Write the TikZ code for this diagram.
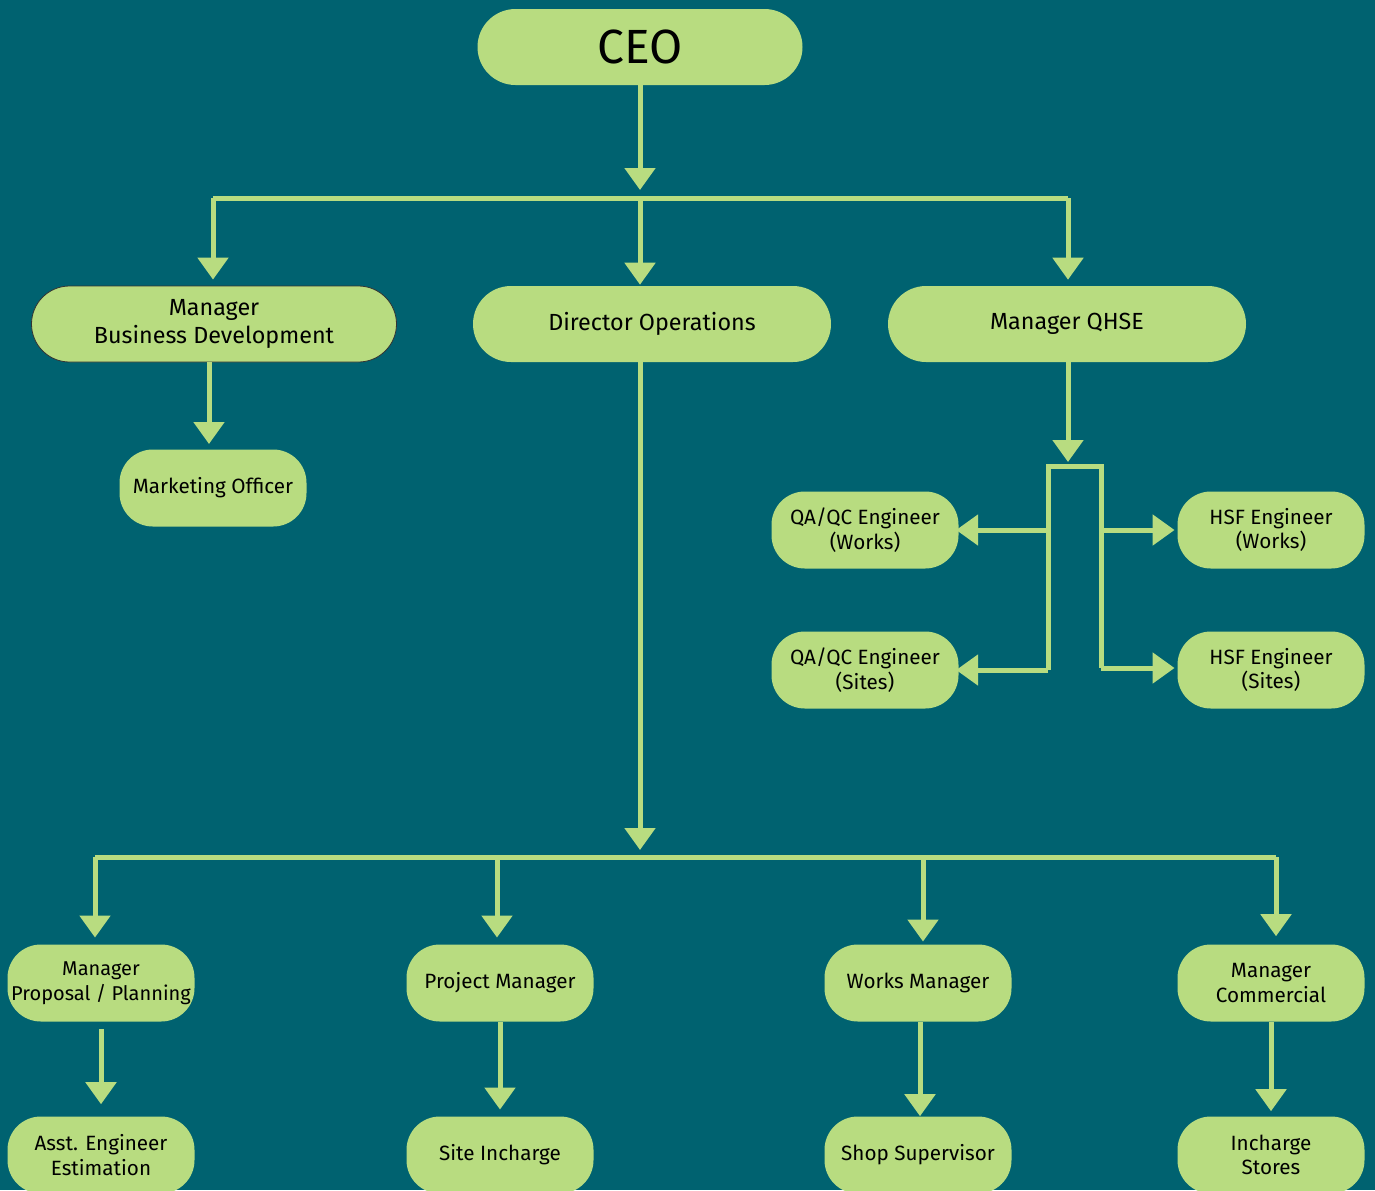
\documentclass[tikz,border=0pt]{standalone}
\usepackage{fontspec}
\setmainfont{Fira Sans}
\usetikzlibrary{arrows.meta}
\definecolor{bg}{RGB}{0,98,112}
\definecolor{leaf}{RGB}{184,220,128}
\begin{document}
\begin{tikzpicture}[x=0.75pt,y=-0.75pt,
  box/.style={fill=leaf,text=black,align=center,inner sep=0pt},
  bignode/.style={box,minimum height=57pt,rounded corners=28.5pt,font=\fontsize{17.5}{20.5}\selectfont},
  smallnode/.style={box,minimum width=140.25pt,minimum height=57.75pt,rounded corners=25pt,font=\fontsize{15.5}{18.5}\selectfont},
  bus/.style={draw=leaf,line width=3.75pt},
  conn/.style={bus,-{Triangle[width=22.5pt,length=16.5pt]}}]
\fill[bg] (0,0) rectangle (1375,1190);
\useasboundingbox (0,0) rectangle (1375,1190);
% level 0/1
\node[bignode,minimum width=243.75pt,font=\fontsize{36}{40}\selectfont] (ceo) at (640,47) {CEO};
\node[bignode,minimum width=273.75pt,draw=black!80,line width=0.6pt] (mbd) at (214,324) {Manager\\Business Development};
\node[bignode,minimum width=268.5pt] (dop) at (652,324) {Director Operations};
\node[bignode,minimum width=268.5pt] (qhse) at (1067,324) {Manager QHSE};
\node[smallnode] (mo) at (213,488) {Marketing Officer};
% QHSE children
\node[smallnode] (qw) at (865,530) {QA/QC Engineer\\(Works)};
\node[smallnode] (qs) at (865,670) {QA/QC Engineer\\(Sites)};
\node[smallnode] (hw) at (1271,530) {HSF Engineer\\(Works)};
\node[smallnode] (hs) at (1271,670) {HSF Engineer\\(Sites)};
% bottom row
\node[smallnode,font=\fontsize{15}{18.5}\selectfont] (ppl) at (101,983) {Manager\\Proposal / Planning};
\node[smallnode] (pm) at (500,983) {Project Manager};
\node[smallnode] (wm) at (918,983) {Works Manager};
\node[smallnode] (mc) at (1271,983) {Manager\\Commercial};
\node[smallnode] (ae) at (101,1155) {Asst. Engineer\\Estimation};
\node[smallnode] (si) at (500,1155) {Site Incharge};
\node[smallnode] (ss) at (918,1155) {Shop Supervisor};
\node[smallnode] (is) at (1271,1155) {Incharge\\Stores};
% coordinates
\coordinate (ceoTip) at (640,190);
\coordinate (busL) at (213,198);
\coordinate (busM) at (640,198);
\coordinate (busR) at (1068,198);
\coordinate (dopTip) at (640,850);
\coordinate (bb1) at (95,857);
\coordinate (bb2) at (497,857);
\coordinate (bb3) at (923,857);
\coordinate (bb4) at (1276,857);
\coordinate (qTip) at (1068,462);
\coordinate (brTL) at (1048,466);
\coordinate (brTR) at (1101,466);
\coordinate (brBL) at (1048,670);
\coordinate (brBR) at (1101,668);
\coordinate (brML) at (1048,530);
\coordinate (brMR) at (1101,530);
% top tree
\draw[conn] (ceo.south -| busM) -- (ceoTip);
\draw[bus] (busL) -- (busR);
\draw[conn,shorten >=4.5pt] (busL) -- (busL |- mbd.north);
\draw[conn,shorten >=0.75pt] (busM) -- (busM |- dop.north);
\draw[conn,shorten >=4.5pt] (busR) -- (busR |- qhse.north);
\draw[conn,shorten >=4.5pt] (209,362) -- (209,450) coordinate (moTop);
% director tree
\draw[conn] (dop.south -| busM) -- (dopTip);
\draw[bus] (bb1) -- (bb4);
\draw[conn,shorten >=5pt] (bb1) -- (bb1 |- ppl.north);
\draw[conn,shorten >=5pt] (bb2) -- (bb2 |- pm.north);
\draw[conn,shorten >=2pt] (bb3) -- (bb3 |- wm.north);
\draw[conn,shorten >=6pt] (bb4) -- (bb4 |- mc.north);
% QHSE
\draw[conn] (qhse.south -| qTip) -- (qTip);
\draw[bus,line join=miter] (brBL) -- (brTL) -- (brTR) -- (brBR);
\draw[conn,shorten >=-2pt] (brML) -- (qw.east |- brML);
\draw[conn,shorten >=-2pt] (brBL) -- (qs.east |- brBL);
\draw[conn,shorten >=2pt] (brMR) -- (hw.west |- brMR);
\draw[conn,shorten >=2pt] (brBR) -- (hs.west |- brBR);
% second level
\draw[conn,shorten >=9pt] (101,1029) -- (ae.north);
\draw[conn,shorten >=5pt] (pm.south) -- (pm.south |- si.north);
\draw[conn] ([xshift=1.5pt]wm.south) -- ([xshift=1.5pt]ss.north);
\draw[conn,shorten >=3.75pt] (mc.south) -- (mc.south |- is.north);
\end{tikzpicture}
\end{document}
